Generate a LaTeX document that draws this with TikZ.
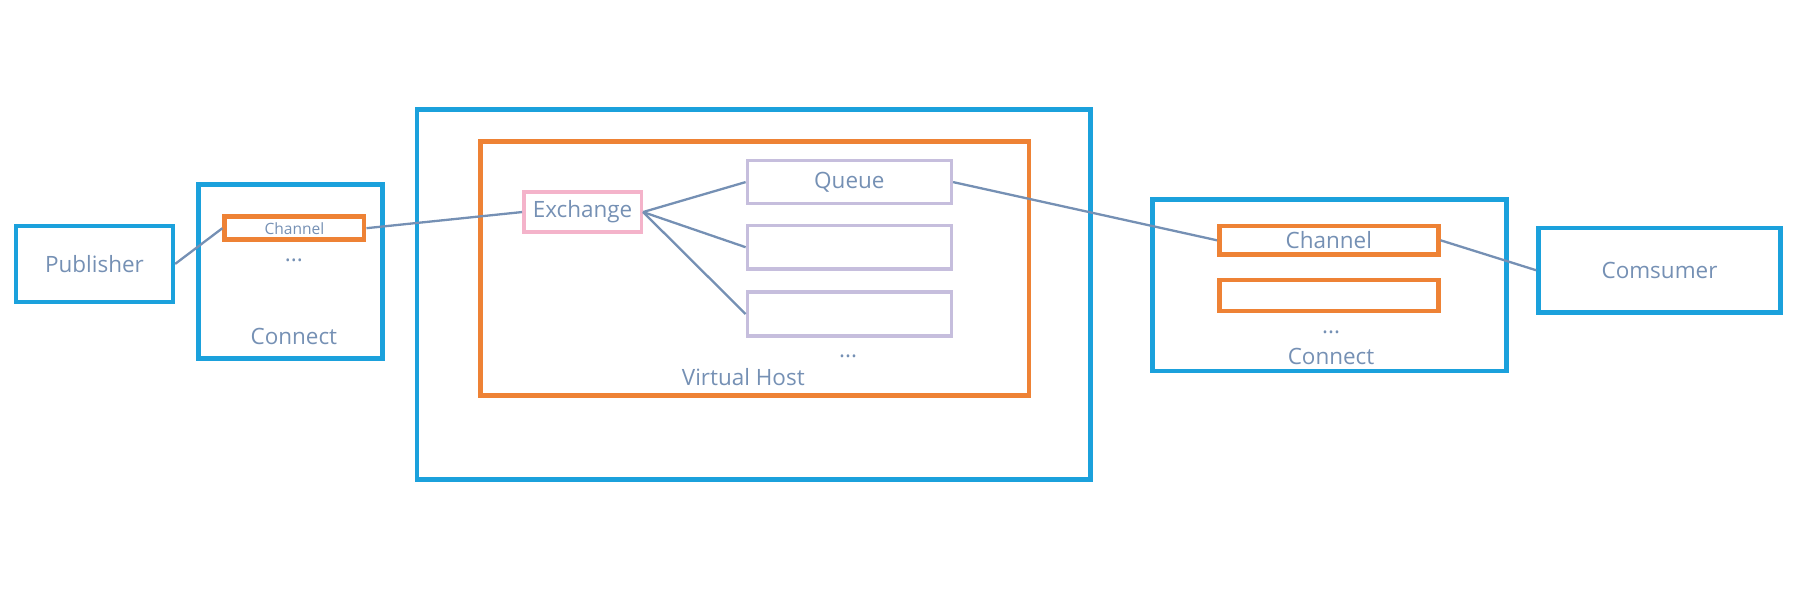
\documentclass[tikz,border=0pt]{standalone}
\usepackage{fontspec}
\setmainfont{Open Sans}
\usepackage{tikz}

\definecolor{boxblue}{HTML}{1BA1DC}
\definecolor{boxorange}{HTML}{EE8235}
\definecolor{boxpink}{HTML}{F4B3CA}
\definecolor{boxlilac}{HTML}{C6BEDD}
\definecolor{linkgray}{HTML}{7590B4}

\begin{document}
\begin{tikzpicture}[x=1pt,y=-1pt,thick,
    every node/.style={text=linkgray,font=\fontsize{19.5}{22}\selectfont,inner sep=0pt},
    blue box/.style={rectangle,draw=boxblue,line width=4pt},
    orange box/.style={rectangle,draw=boxorange,line width=4pt},
    pink box/.style={rectangle,draw=boxpink,line width=3pt},
    lilac box/.style={rectangle,draw=boxlilac,line width=3pt}]

  \useasboundingbox (0,0) rectangle (1568,520);

  % publisher side
  \node[blue box,minimum width=136,minimum height=66] (pub) at (82,229) {Publisher};
  \node[blue box,minimum width=160,minimum height=151] (conn1) at (252,235.5) {};
  \node[orange box,minimum width=121,minimum height=20,font=\fontsize{13.5}{15}\selectfont] (chan1) at (255.5,198) {Channel};
  \node (dots1) at (255,226) {...};
  \node (lbl1) at (255,292) {Connect};

  % broker
  \node[blue box,minimum width=584,minimum height=321] (host) at (654,255.5) {};
  \node[orange box,minimum width=476,minimum height=220] (vhost) at (655,233) {};
  \node (lbl2) at (645,327) {Virtual Host};
  \node (dots2) at (736,309) {...};
  \node[pink box,minimum width=102,minimum height=35] (ex) at (505.5,184) {Exchange};
  \node[lilac box,minimum width=177,minimum height=37] (q1) at (737,158) {Queue};
  \node[lilac box,minimum width=177,minimum height=38] (q2) at (737,214.5) {};
  \node[lilac box,minimum width=177,minimum height=38] (q3) at (737,272.5) {};

  % consumer side
  \node[blue box,minimum width=307,minimum height=149] (conn2) at (1153.5,247.5) {};
  \node[orange box,minimum width=190,minimum height=25] (chan2) at (1153,208.5) {Channel};
  \node[orange box,minimum width=190,minimum height=27] (chan3) at (1153,256.5) {};
  \node (dots3) at (1155,288) {...};
  \node (lbl3) at (1155,309) {Connect};
  \node[blue box,minimum width=210,minimum height=73] (con) at (1440,234.5) {Comsumer};

\path[draw=linkgray,line width=2pt]
    (pub.east) edge (chan1.west)
    (chan1.east) edge (ex.west)
    (ex.east) edge (q1.west)
              edge (q2.west)
              edge (q3.west)
    (q1.east) edge (chan2.west)
    (chan2.east) edge (con.west)
;
\end{tikzpicture}
\end{document}
